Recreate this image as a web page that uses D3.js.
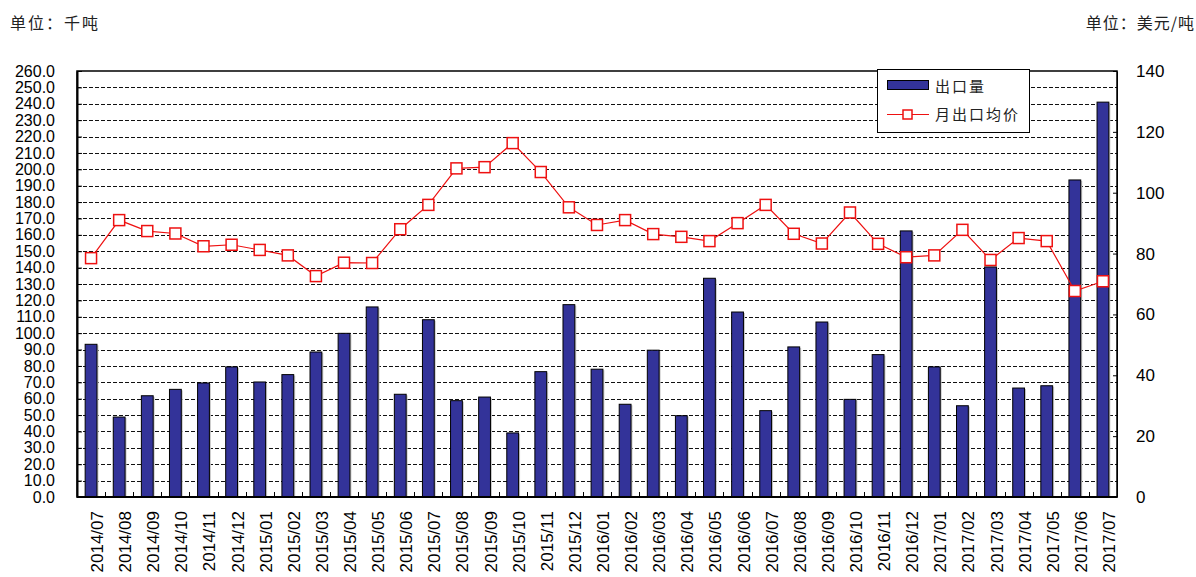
<!DOCTYPE html>
<html>
<head>
<meta charset="utf-8">
<script src="https://cdn.jsdelivr.net/npm/d3@7"></script>
<style>
  body { margin: 0; background: #fff; }
  svg { display: block; font-family: "Liberation Sans", Arial, sans-serif; }
  .cjk { font-family: "Noto Sans CJK SC", sans-serif; }
</style>
</head>
<body>
<div id="chart"></div>
<script>
const months = [
  "2014/07", "2014/08", "2014/09", "2014/10", "2014/11", "2014/12",
  "2015/01", "2015/02", "2015/03", "2015/04", "2015/05", "2015/06",
  "2015/07", "2015/08", "2015/09", "2015/10", "2015/11", "2015/12",
  "2016/01", "2016/02", "2016/03", "2016/04", "2016/05", "2016/06",
  "2016/07", "2016/08", "2016/09", "2016/10", "2016/11", "2016/12",
  "2017/01", "2017/02", "2017/03", "2017/04", "2017/05", "2017/06", "2017/07"
];
// 出口量 (千吨)
const volume = [
  93.2, 48.8, 61.8, 65.7, 69.6, 79.4,
  70.2, 74.7, 88.5, 99.9, 116.0, 62.7,
  108.2, 58.8, 61.0, 39.1, 76.5, 117.4,
  78.0, 56.6, 89.6, 49.6, 133.5, 112.9,
  52.7, 91.6, 106.8, 59.6, 86.9, 162.4,
  79.4, 55.7, 140.4, 66.5, 67.9, 193.5, 241.0
];
// 月出口均价 (美元/吨)
const price = [
  78.5, 91.0, 87.4, 86.6, 82.4, 82.9,
  81.2, 79.4, 72.6, 77.0, 76.9, 88.0,
  96.0, 108.0, 108.4, 116.3, 106.8, 95.2,
  89.4, 91.0, 86.4, 85.5, 84.1, 90.0,
  96.0, 86.5, 83.3, 93.5, 83.2, 78.8,
  79.4, 87.8, 77.9, 85.1, 84.1, 67.7, 70.9
];
const leftTicks = d3.range(0, 261, 10);
const rightTicks = [0, 20, 40, 60, 80, 100, 120, 140];

const width = 1196;
const height = 577;
const plot = { left: 77, right: 1117, top: 71, bottom: 497 };

const svg = d3.select("#chart")
  .append("svg")
  .attr("width", width)
  .attr("height", height);

const x = d3.scaleBand()
  .domain(months)
  .range([plot.left, plot.right])
  .padding(0);
const yL = d3.scaleLinear().domain([0, 260]).range([plot.bottom, plot.top]);
const yR = d3.scaleLinear().domain([0, 140]).range([plot.bottom, plot.top]);

// units
svg.append("text")
  .attr("class", "cjk")
  .attr("x", 10)
  .attr("y", 29)
  .attr("font-size", 16)
  .attr("letter-spacing", 2)
  .attr("fill", "#222")
  .text("单位：千吨");
svg.append("text")
  .attr("class", "cjk")
  .attr("x", 1195)
  .attr("y", 29)
  .attr("text-anchor", "end")
  .attr("font-size", 16)
  .attr("letter-spacing", 1)
  .attr("fill", "#222")
  .text("单位：美元/吨");

// gridlines
svg.append("g")
  .selectAll("line")
  .data(leftTicks.filter(d => d > 0 && d < 260))
  .enter()
  .append("line")
  .attr("x1", plot.left)
  .attr("x2", plot.right)
  .attr("y1", d => Math.round(yL(d)) + 0.5)
  .attr("y2", d => Math.round(yL(d)) + 0.5)
  .attr("stroke", "#111")
  .attr("stroke-width", 1)
  .attr("stroke-dasharray", "4,2");

// bars
const barW = x.bandwidth() * 0.42;
const bars = svg.append("g");
bars.selectAll("rect.shadow")
  .data(volume)
  .enter()
  .append("rect")
  .attr("class", "shadow")
  .attr("x", (d, i) => x(months[i]) + (x.bandwidth() - barW) / 2 + 1.5)
  .attr("y", d => yL(d) + 1)
  .attr("width", barW)
  .attr("height", d => plot.bottom - yL(d) - 1)
  .attr("fill", "#c8c8c8");
bars.selectAll("rect.bar")
  .data(volume)
  .enter()
  .append("rect")
  .attr("class", "bar")
  .attr("x", (d, i) => x(months[i]) + (x.bandwidth() - barW) / 2)
  .attr("y", d => yL(d))
  .attr("width", barW)
  .attr("height", d => plot.bottom - yL(d))
  .attr("fill", "#333399")
  .attr("stroke", "#000")
  .attr("stroke-width", 1);

// frame
svg.append("rect")
  .attr("x", plot.left)
  .attr("y", plot.top)
  .attr("width", plot.right - plot.left)
  .attr("height", plot.bottom - plot.top)
  .attr("fill", "none")
  .attr("stroke", "#000")
  .attr("stroke-width", 1.5);

// left axis
const leftAxis = svg.append("g")
  .attr("transform", `translate(${plot.left},0)`)
  .call(d3.axisLeft(yL).tickValues(leftTicks).tickFormat(d3.format(".1f"))
    .tickSizeInner(-5).tickSizeOuter(0).tickPadding(22));
leftAxis.select(".domain").attr("stroke-width", 2);
leftAxis.selectAll("text").attr("font-size", 16).attr("fill", "#000").attr("font-family", "Liberation Sans, Arial, sans-serif");

// right axis
const rightAxis = svg.append("g")
  .attr("transform", `translate(${plot.right},0)`)
  .call(d3.axisRight(yR).tickValues(rightTicks).tickFormat(d3.format("d"))
    .tickSizeInner(-4).tickSizeOuter(0).tickPadding(19));
rightAxis.selectAll("text").attr("font-size", 17).attr("fill", "#000").attr("font-family", "Liberation Sans, Arial, sans-serif");

// bottom axis: ticks between categories
const bottom = svg.append("g");
bottom.append("line")
  .attr("x1", plot.left)
  .attr("x2", plot.right)
  .attr("y1", plot.bottom)
  .attr("y2", plot.bottom)
  .attr("stroke", "#000")
  .attr("stroke-width", 2);
bottom.selectAll("line.tick")
  .data(months.slice(1))
  .enter()
  .append("line")
  .attr("class", "tick")
  .attr("x1", d => Math.round(x(d)) + 0.5)
  .attr("x2", d => Math.round(x(d)) + 0.5)
  .attr("y1", plot.bottom)
  .attr("y2", plot.bottom - 5)
  .attr("stroke", "#000");
bottom.selectAll("text")
  .data(months)
  .enter()
  .append("text")
  .attr("transform", "rotate(-90)")
  .attr("x", -511)
  .attr("y", d => x(d) + x.bandwidth() / 2 + 12)
  .attr("text-anchor", "end")
  .attr("font-size", 17)
  .attr("fill", "#000")
  .text(d => d);

// price line
const line = d3.line()
  .x((d, i) => x(months[i]) + x.bandwidth() / 2)
  .y(d => yR(d));
svg.append("path")
  .datum(price)
  .attr("d", line)
  .attr("fill", "none")
  .attr("stroke", "#ee1111")
  .attr("stroke-width", 1.2);
svg.append("g")
  .selectAll("rect")
  .data(price)
  .enter()
  .append("rect")
  .attr("x", (d, i) => x(months[i]) + x.bandwidth() / 2 - 5.5)
  .attr("y", d => yR(d) - 5.5)
  .attr("width", 11)
  .attr("height", 11)
  .attr("fill", "#fff")
  .attr("stroke", "#ee1111")
  .attr("stroke-width", 1.5);

// legend
const legend = svg.append("g");
legend.append("rect")
  .attr("x", 877.5)
  .attr("y", 69.5)
  .attr("width", 152)
  .attr("height", 63)
  .attr("fill", "#fff")
  .attr("stroke", "#000")
  .attr("stroke-width", 1);
legend.append("rect")
  .attr("x", 887.5)
  .attr("y", 80.5)
  .attr("width", 41)
  .attr("height", 9)
  .attr("fill", "#333399")
  .attr("stroke", "#000")
  .attr("stroke-width", 1);
legend.append("text")
  .attr("class", "cjk")
  .attr("x", 935)
  .attr("y", 92)
  .attr("font-size", 15)
  .attr("letter-spacing", 2)
  .attr("fill", "#222")
  .text("出口量");
legend.append("line")
  .attr("x1", 887)
  .attr("x2", 929)
  .attr("y1", 114.5)
  .attr("y2", 114.5)
  .attr("stroke", "#ee1111")
  .attr("stroke-width", 1.2);
legend.append("rect")
  .attr("x", 903)
  .attr("y", 110)
  .attr("width", 9)
  .attr("height", 9)
  .attr("fill", "#fff")
  .attr("stroke", "#ee1111")
  .attr("stroke-width", 1.5);
legend.append("text")
  .attr("class", "cjk")
  .attr("x", 935)
  .attr("y", 120)
  .attr("font-size", 15)
  .attr("letter-spacing", 2)
  .attr("fill", "#222")
  .text("月出口均价");
</script>
</body>
</html>
